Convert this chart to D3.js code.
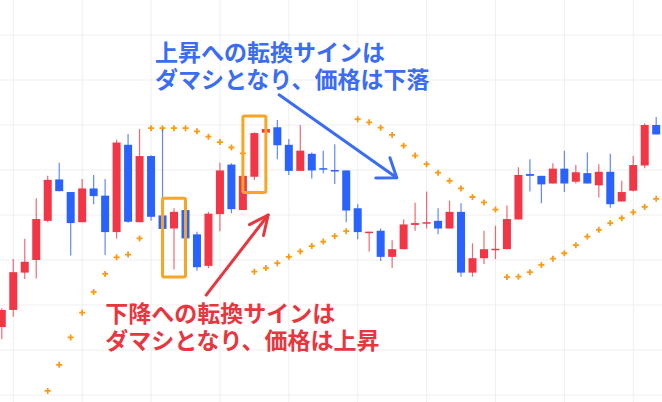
<!DOCTYPE html>
<html>
<head>
<meta charset="utf-8">
<script src="https://cdn.jsdelivr.net/npm/d3@7"></script>
<style>
  html, body { margin: 0; padding: 0; background: #fff; }
  svg { display: block; }
</style>
</head>
<body>
<div id="chart"></div>
<script>
const width = 662, height = 402;

// OHLC per bar (red = up, blue = down)
const opens  = [95.1, 98.9, 107.2, 110.0, 118.7, 127.9, 125.1, 118.4, 125.9, 124.3,
                116.2, 135.6, 118.4, 133.1, 119.9, 117.0, 121.1, 115.7, 108.7, 120.2,
                131.2, 121.1, 128.5, 138.3, 139.5, 135.6, 129.8, 133.6, 130.4, 130.0,
                129.9, 121.5, 116.2, 116.5, 110.7, 112.4, 117.8, 118.3, 118.7, 117.0,
                120.7, 107.2, 110.4, 112.4, 112.4, 119.0, 129.1, 128.7, 127.0, 130.3,
                127.4, 129.3, 126.6, 129.6, 123.0, 125.4, 131.0, 140.0];
const highs  = [99.3, 110.2, 114.7, 123.7, 128.7, 131.6, 125.1, 128.0, 128.9, 128.0,
                136.7, 138.0, 139.1, 133.3, 139.1, 121.5, 121.1, 116.3, 120.7, 131.6,
                131.5, 128.7, 138.4, 139.1, 141.1, 136.9, 140.0, 133.9, 134.3, 135.7,
                129.9, 122.4, 116.3, 117.0, 114.4, 119.0, 122.7, 125.2, 121.5, 123.2,
                122.6, 113.7, 116.5, 117.6, 122.1, 130.6, 132.4, 128.7, 131.5, 134.3,
                131.1, 133.9, 131.3, 133.6, 127.6, 133.1, 140.4, 141.8];
const lows   = [92.4, 97.4, 105.8, 105.9, 118.4, 125.3, 111.0, 118.4, 122.4, 111.1,
                114.8, 118.3, 118.4, 118.7, 116.7, 107.9, 114.8, 107.6, 108.2, 116.4,
                120.4, 121.1, 127.8, 138.3, 132.4, 128.9, 129.8, 128.1, 129.3, 126.9,
                118.4, 114.6, 111.9, 109.8, 108.2, 112.4, 116.5, 117.0, 115.7, 117.0,
                106.3, 106.3, 109.1, 110.2, 112.4, 119.0, 125.2, 122.6, 127.0, 125.1,
                127.0, 127.0, 123.9, 121.6, 123.0, 125.2, 130.4, 137.9];
const closes = [98.9, 107.3, 109.6, 119.1, 127.8, 125.3, 118.2, 125.9, 124.2, 116.2,
                136.1, 118.5, 133.1, 119.6, 116.9, 120.7, 114.8, 108.4, 120.3, 129.9,
                121.3, 128.7, 138.2, 139.1, 135.5, 129.8, 134.3, 129.9, 130.3, 129.9,
                121.0, 116.2, 116.3, 110.7, 112.4, 117.9, 118.2, 118.4, 117.0, 120.7,
                107.2, 110.4, 112.4, 112.5, 119.1, 128.9, 128.7, 126.8, 130.3, 127.0,
                129.5, 127.0, 129.6, 122.4, 125.1, 131.1, 140.0, 137.9];

// Parabolic SAR per bar (null = off the chart)
const sar = [null, null, null, null, 80.9, 86.7, 92.8, 98.3, 102.9, 106.9,
             110.6, 111.2, 114.8, 139.3, 139.3, 139.3, 139.3, 138.6, 137.4, 136.2,
             135.0, 133.7, 107.4, 108.2, 109.3, 110.7, 111.9, 113.1, 114.1, 115.3,
             116.4, 141.3, 140.6, 139.4, 137.8, 135.4, 133.2, 131.3, 129.4, 127.6,
             125.9, 124.0, 122.8, 121.2, 106.2, 106.3, 107.3, 108.9, 110.3, 111.5,
             113.3, 115.2, 116.7, 118.2, 119.3, 120.6, 121.8, 123.6];

const gridPrices = [80, 90, 100, 110, 120, 130, 140, 150, 160];
const gridBars = [1, 7, 13, 19, 25, 31, 37, 43, 49, 55];

// highlight boxes: [fromBar, toBar, lowPrice, highPrice]
const boxes = [[14, 16, 106.2, 123.7], [21, 23, 125.0, 142.0]];

// arrows: [fromBar, fromPrice, toBar, toPrice, colour, head spread in degrees]
const arrows = [
  [24.15, 146.7, 34.4, 128.3, "#3a6cf4", 36],
  [17.8, 102.2, 23.2, 120.0, "#e8363f", 25]
];

// notes: [bar, price of first baseline, lines, colour]
const notes = [
  [13.35, 154.2, ["上昇への転換サインは", "ダマシとなり、価格は下落"], "#3a6cf4"],
  [9.0, 96.2, ["下降への転換サインは", "ダマシとなり、価格は上昇"], "#e8363f"]
];

const bars = opens.map((o, i) => ({i: i, o: o, h: highs[i], l: lows[i], c: closes[i]}));

const x = d3.scaleLinear().domain([0, 57]).range([1.8, 656.2]);
const y = d3.scaleLinear().domain([80, 160]).range([395, 35]);

const svg = d3.select("#chart").append("svg")
  .attr("width", width).attr("height", height)
  .style("font-family", "'Noto Sans CJK JP', 'Noto Sans', sans-serif");

// grid
svg.append("g").selectAll("line").data(gridPrices).enter().append("line")
  .attr("x1", 0).attr("x2", width)
  .attr("y1", d => y(d)).attr("y2", d => y(d))
  .attr("stroke", "#efefef").attr("stroke-width", 1);
svg.append("g").selectAll("line").data(gridBars).enter().append("line")
  .attr("x1", d => x(d)).attr("x2", d => x(d))
  .attr("y1", 0).attr("y2", height)
  .attr("stroke", "#efefef").attr("stroke-width", 1);

// SAR crosses (behind candles)
svg.append("g").selectAll("path")
  .data(sar.map((v, i) => ({i: i, v: v})).filter(d => d.v != null))
  .enter().append("path")
  .attr("transform", d => "translate(" + x(d.i) + "," + y(d.v) + ")")
  .attr("d", "M-3,0H3M0,-3V3")
  .attr("stroke", "#ff9a10").attr("stroke-width", 1.8).attr("fill", "none");

const col = d => d.c >= d.o ? "#f23645" : "#2962ff";

// wicks
svg.append("g").selectAll("line").data(bars).enter().append("line")
  .attr("x1", d => x(d.i)).attr("x2", d => x(d.i))
  .attr("y1", d => y(d.h)).attr("y2", d => y(d.l))
  .attr("stroke", col).attr("stroke-width", 1.2).attr("stroke-opacity", 0.75);

// bodies
const bw = 8;
svg.append("g").selectAll("rect").data(bars).enter().append("rect")
  .attr("x", d => x(d.i) - bw / 2)
  .attr("width", bw)
  .attr("y", d => y(Math.max(d.o, d.c)))
  .attr("height", d => Math.max(1.5, Math.abs(y(d.o) - y(d.c))))
  .attr("fill", col);

// highlight boxes
svg.append("g").selectAll("rect").data(boxes).enter().append("rect")
  .attr("x", d => x(d[0])).attr("width", d => x(d[1]) - x(d[0]))
  .attr("y", d => y(d[3])).attr("height", d => y(d[2]) - y(d[3]))
  .attr("rx", 1.5)
  .attr("fill", "none").attr("stroke", "#f7a524").attr("stroke-width", 3);

// arrows
arrows.forEach(a => {
  const x1 = x(a[0]), y1 = y(a[1]), x2 = x(a[2]), y2 = y(a[3]);
  const ang = Math.atan2(y1 - y2, x1 - x2), len = 21, sp = a[5] * Math.PI / 180;
  const g = svg.append("g").attr("stroke", a[4]).attr("stroke-width", 3)
    .attr("fill", "none").attr("stroke-linecap", "round").attr("stroke-linejoin", "round");
  g.append("line").attr("x1", x1).attr("y1", y1).attr("x2", x2).attr("y2", y2);
  g.append("path").attr("d",
    "M" + (x2 + len * Math.cos(ang - sp)) + "," + (y2 + len * Math.sin(ang - sp)) +
    "L" + x2 + "," + y2 +
    "L" + (x2 + len * Math.cos(ang + sp)) + "," + (y2 + len * Math.sin(ang + sp)));
});

// notes
notes.forEach(n => {
  const t = svg.append("text")
    .attr("x", x(n[0])).attr("y", y(n[1]))
    .attr("fill", n[3]).attr("font-size", 23).attr("font-weight", 700);
  n[2].forEach((line, k) => {
    t.append("tspan").attr("x", x(n[0])).attr("dy", k === 0 ? 0 : 26.5).text(line);
  });
});
</script>
</body>
</html>
